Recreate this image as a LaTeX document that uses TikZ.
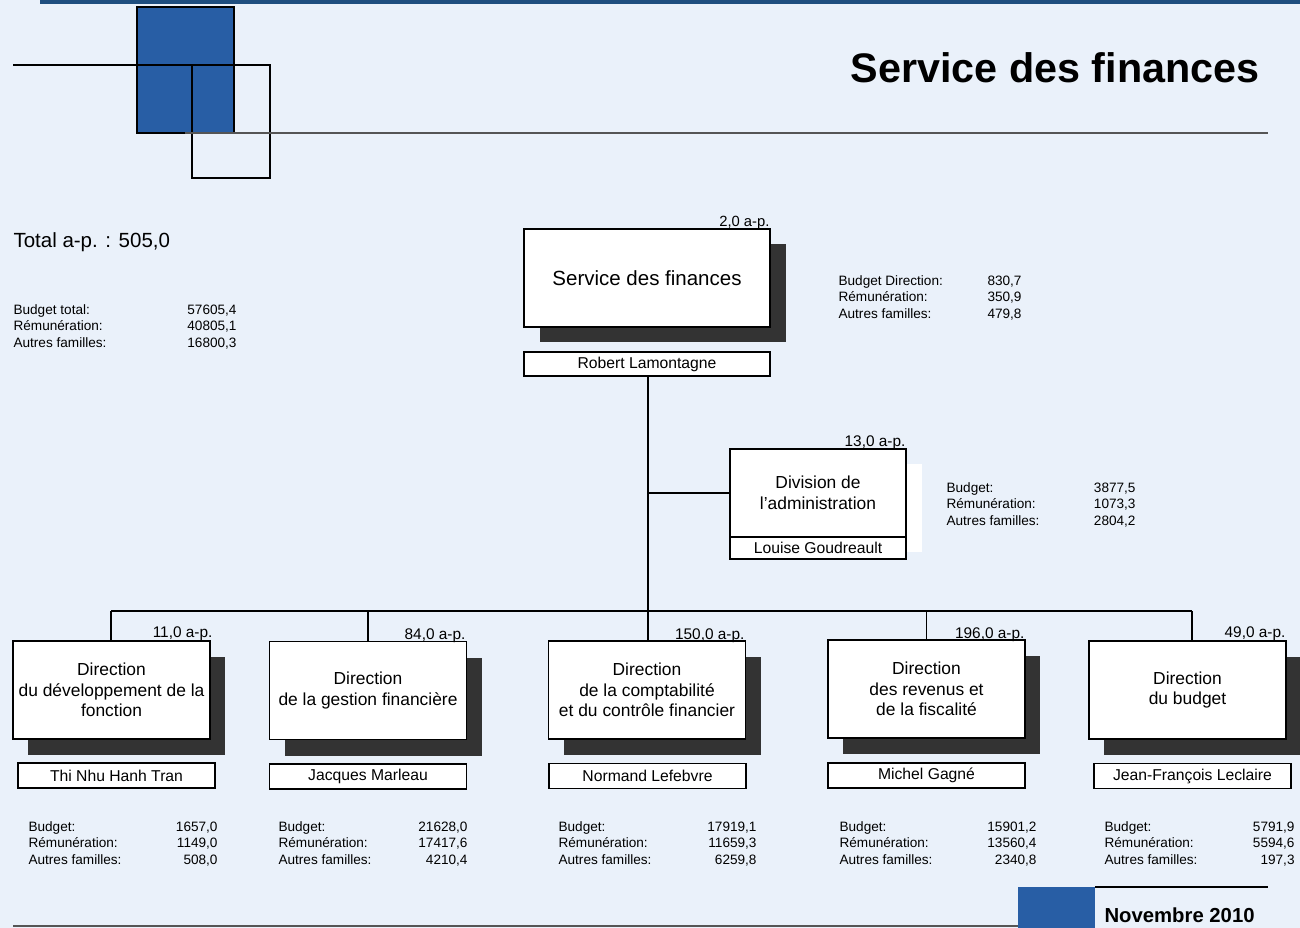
\documentclass[tikz,border=0pt]{standalone}
\usepackage{fontspec}
\setmainfont{Liberation Sans}
\usetikzlibrary{shadows,calc}
\definecolor{bg}{HTML}{EAF1FA}
\definecolor{sqblue}{HTML}{285EA5}
\definecolor{banner}{HTML}{1F4E7F}
\definecolor{shd}{HTML}{333333}
\definecolor{rule}{HTML}{555555}
\newcommand\infoblk[7]{\begin{tabular}[t]{@{}l@{}}\makebox[#1][l]{#2\hfill#3}\\\makebox[#1][l]{#4\hfill#5}\\\makebox[#1][l]{#6\hfill#7}\end{tabular}}
\begin{document}
\begin{tikzpicture}[x=1pt,y=-1pt,line width=1.1pt,
  boxbase/.style={draw=black,fill=white,inner sep=0pt,align=center,
    font=\fontsize{17.4}{20.5}\selectfont,minimum width=197pt,minimum height=98pt},
  unitbox/.style={boxbase,
    drop shadow={shadow xshift=15pt,shadow yshift=-16pt,fill=shd,opacity=1}},
  namebox/.style={draw=black,fill=white,inner sep=0pt,font=\fontsize{15.7}{17}\selectfont,
    minimum width=197pt,minimum height=25pt},
  apl/.style={anchor=base east,inner sep=0pt,font=\fontsize{15.4}{17}\selectfont},
  info/.style={anchor=base west,inner sep=0pt,font=\fontsize{13.6}{16.5}\selectfont},
  conn/.style={draw=black,line width=1.1pt},
  deco/.style={draw=black,line width=1.1pt}]
\useasboundingbox (0,0) rectangle (1300,928);
\fill[bg] (0,0) rectangle (1300,928);
% header decoration
\fill[banner] (40,0) rectangle (1300,4);
\filldraw[fill=sqblue,deco] (137,7) rectangle (234,133);
\draw[deco] (13,65) -- (192,65);
\draw[deco] (192,65) rectangle (270,178);
\draw[draw=rule,line width=1.1pt] (185,133) -- (1268,133);
\node[anchor=base east,inner sep=0pt,font=\fontsize{41.3}{48}\selectfont\bfseries] (title) at (1260,83) {Service des finances};
% footer decoration
\fill[sqblue] (1018,887) rectangle (1095,928);
\draw[deco] (1095,887) -- (1268,887);
\draw[draw=rule,line width=1.1pt] (13,926) -- (1018,926);
\node[anchor=base west,inner sep=0pt,font=\fontsize{20.3}{22}\selectfont\bfseries] (date) at (1104,922) {Novembre 2010};
% totals
\node[anchor=base west,inner sep=0pt,font=\fontsize{20.5}{24}\selectfont] (total) at (13,247) {Total a-p. : 505,0};
\node[info] (tinfo) at (13,314) {\infoblk{223pt}{Budget total:}{57605,4}{Rémunération:}{40805,1}{Autres familles:}{16800,3}};
% main unit
\node[boxbase,font=\fontsize{20.5}{24}\selectfont,minimum width=246pt,minimum height=98pt,
  drop shadow={shadow xshift=16pt,shadow yshift=-15pt,fill=shd,opacity=1}] (main) at (647,278) {Service des finances};
\node[apl,font=\fontsize{14.8}{17}\selectfont] (mainap) at (770,226) {2,0 a-p.};
\node[namebox,minimum width=246pt,minimum height=24pt] (mainname) at (647,364) {Robert Lamontagne};
\node[info] (maininfo) at (838,285) {\infoblk{183pt}{Budget Direction:}{830,7}{Rémunération:}{350,9}{Autres familles:}{479,8}};
% division
\node[boxbase,minimum width=176pt,minimum height=88pt,
  drop shadow={shadow xshift=16pt,shadow yshift=-15pt,fill=white,opacity=1}] (div) at (818,493) {Division de\\l’administration};
\node[namebox,minimum width=176pt,minimum height=22pt] (divname) at (818,548) {Louise Goudreault};
\node[apl] (divap) at (906,446) {13,0 a-p.};
\node[info] (divinfo) at (946,492) {\infoblk{189pt}{Budget:}{3877,5}{Rémunération:}{1073,3}{Autres familles:}{2804,2}};
% directions
\node[unitbox] (b1) at (111.5,690) {Direction\\du développement de la\\fonction};
\node[unitbox] (b2) at (368,690.5) {Direction\\de la gestion financière};
\node[unitbox] (b3) at (647,690) {Direction\\de la comptabilité\\et du contrôle financier};
\node[unitbox] (b4) at (926.5,689) {Direction\\des revenus et\\de la fiscalité};
\node[unitbox] (b5) at (1187.5,690) {Direction\\du budget};
\node[apl] (a1) at (213,637) {11,0 a-p.};
\node[apl] (a2) at (466,639) {84,0 a-p.};
\node[apl] (a3) at (745,639) {150,0 a-p.};
\node[apl] (a4) at (1025,638) {196,0 a-p.};
\node[apl] (a5) at (1286,637) {49,0 a-p.};
\node[namebox] (n1) at (116.5,775.5) {Thi Nhu Hanh Tran};
\node[namebox] (n2) at (368,776.5) {Jacques Marleau};
\node[namebox] (n3) at (647.5,776) {Normand Lefebvre};
\node[namebox] (n4) at (926.5,775.5) {Michel Gagné};
\node[namebox] (n5) at (1192.5,776) {Jean-François Leclaire};
\node[info] (i1) at (28,831) {\infoblk{189pt}{Budget:}{1657,0}{Rémunération:}{1149,0}{Autres familles:}{508,0}};
\node[info] (i2) at (278,831) {\infoblk{189pt}{Budget:}{21628,0}{Rémunération:}{17417,6}{Autres familles:}{4210,4}};
\node[info] (i3) at (558,831) {\infoblk{198pt}{Budget:}{17919,1}{Rémunération:}{11659,3}{Autres familles:}{6259,8}};
\node[info] (i4) at (839,831) {\infoblk{197pt}{Budget:}{15901,2}{Rémunération:}{13560,4}{Autres familles:}{2340,8}};
\node[info] (i5) at (1104,831) {\infoblk{190pt}{Budget:}{5791,9}{Rémunération:}{5594,6}{Autres familles:}{197,3}};
% connectors
\coordinate (k1) at (111,611);
\coordinate (k5) at (1192,611);
\coordinate (km) at (648,611);
\draw[conn] (mainname.south -| km) -- (km);
\draw[conn] (km |- div.west) -- (div.west);
\draw[conn] (k1) -- (k5);
\draw[conn] (k1) -- (k1 |- b1.north);
\draw[conn] (b2.north |- km) -- (b2.north);
\draw[conn] (km) -- (km |- b3.north);
\draw[conn] (b4.north |- km) -- (b4.north);
\draw[conn] (k5) -- (k5 |- b5.north);
\end{tikzpicture}
\end{document}
